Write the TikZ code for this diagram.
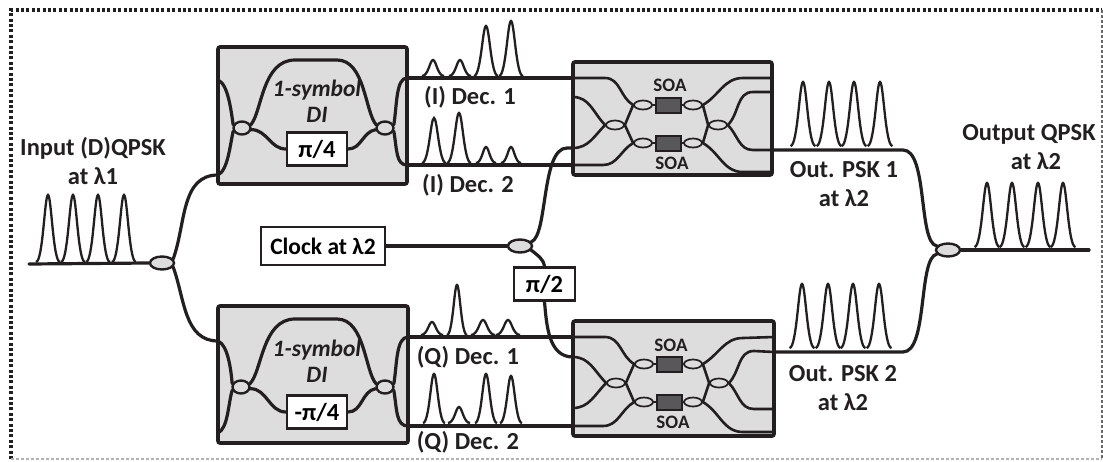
\documentclass[tikz,border=0pt]{standalone}
\usepackage{fontspec}
\setmainfont{Carlito}
\usepackage{tikz}
\usetikzlibrary{shapes.geometric, positioning}
\definecolor{FiberBlack}{HTML}{231F20}
\definecolor{BoxGrey}{HTML}{DCDDDC}
\definecolor{AmpGrey}{HTML}{58585A}
\tikzset{
  % Fibre line
  fiber/.style={draw=FiberBlack, line width=3.2pt, line cap=round},
  % Thin fibre inside the SOA blocks
  soafiber/.style={fiber, line width=2.6pt},
  % Thin pulse trace
  trace/.style={draw=FiberBlack, line width=2.3pt},
  % Grey device block
  block/.style={
    rectangle, draw=FiberBlack, line width=3.6pt,
    fill=BoxGrey, rounded corners=2pt, inner sep=0pt
  },
  % Couplers
  coupler/.style={
    ellipse, draw=FiberBlack, line width=2.4pt,
    fill=BoxGrey, inner sep=0pt,
    minimum width=24pt, minimum height=13pt
  },
  dicoupler/.style={coupler, minimum width=17pt, minimum height=13pt},
  soacoupler/.style={coupler, line width=1.7pt, minimum width=18pt, minimum height=9pt},
  % Phase shifter and clock box
  phase/.style={
    rectangle, draw=FiberBlack, line width=2.4pt,
    fill=white, inner sep=0pt, minimum height=33pt,
    font=\fontsize{24.5}{26}\selectfont\bfseries
  },
  % Amplifier
  amp/.style={
    rectangle, draw=FiberBlack, line width=2pt,
    fill=AmpGrey, inner sep=0pt,
    minimum width=25pt, minimum height=15pt
  },
  % Labels
  lbl/.style={
    text=FiberBlack, inner sep=0pt, align=center,
    font=\fontsize{24.5}{29}\selectfont\bfseries
  },
  dilbl/.style={lbl, font=\fontsize{23.5}{26}\selectfont\bfseries\itshape},
  soalbl/.style={lbl, font=\fontsize{19}{21}\selectfont\bfseries}
}

\begin{document}
\begin{tikzpicture}[x=1pt, y=-1pt]
\useasboundingbox (0,0) rectangle (1103,461);

% Frame
\draw[FiberBlack, line width=3.2pt, dash pattern=on 3pt off 2.4pt] (11,459) -- (11,10) -- (1102,10);
\draw[gray!80!black, line width=1.2pt, dash pattern=on 3pt off 2pt] (1102,10) -- (1102,459);
\draw[gray!60, line width=1.2pt, dash pattern=on 3pt off 2pt] (11,459) -- (1102,459);

% Device blocks
\node[block, minimum width=189pt, minimum height=137pt] (di_top) at (312.5,115.5) {};
\node[block, minimum width=190pt, minimum height=137pt] (di_bot) at (313,374.5) {};
\node[block, minimum width=199pt, minimum height=113pt] (soa_top) at (672.5,118.5) {};
\node[block, minimum width=201pt, minimum height=115pt] (soa_bot) at (673.5,378.5) {};

% Ports
\coordinate (dt_in1) at (218,80);
\coordinate (dt_in2) at (218,175);
\coordinate (dt_out1) at (407,78);
\coordinate (dt_out2) at (407,165);
\coordinate (db_in1) at (218,341);
\coordinate (db_in2) at (218,433);
\coordinate (db_out1) at (408,337);
\coordinate (db_out2) at (408,426);
\coordinate (st_in1) at (573,78);
\coordinate (st_in2) at (573,97);
\coordinate (st_in3) at (573,148);
\coordinate (st_in4) at (573,165);
\coordinate (st_out1) at (772,78);
\coordinate (st_out2) at (772,92);
\coordinate (st_out3) at (772,150);
\coordinate (st_out4) at (772,172);
\coordinate (sb_in1) at (573,337);
\coordinate (sb_in2) at (573,357);
\coordinate (sb_in3) at (573,408);
\coordinate (sb_in4) at (573,426);
\coordinate (sb_out1) at (774,337);
\coordinate (sb_out2) at (774,352);
\coordinate (sb_out3) at (774,409);
\coordinate (sb_out4) at (774,432);
\coordinate (in_start) at (29,264);
\coordinate (out_end) at (1089,250);

% Couplers
\node[coupler] (split_in) at (162,263) {};
\node[coupler] (split_clk) at (520,246) {};
\node[coupler] (comb_out) at (948,250) {};
\node[dicoupler] (dt_l) at (242,128) {};
\node[dicoupler] (dt_r) at (385,128) {};
\node[dicoupler] (db_l) at (241,387) {};
\node[dicoupler] (db_r) at (385,387) {};

\node[soacoupler] (st_a) at (643,105) {};
\node[soacoupler] (st_b) at (693,105) {};
\node[soacoupler] (st_c) at (643,143) {};
\node[soacoupler] (st_d) at (693,143) {};
\node[soacoupler] (st_l) at (615,125) {};
\node[soacoupler] (st_r) at (718,125) {};
\node[soacoupler] (sb_a) at (644,364) {};
\node[soacoupler] (sb_b) at (693,364) {};
\node[soacoupler] (sb_c) at (644,402) {};
\node[soacoupler] (sb_d) at (693,402) {};
\node[soacoupler] (sb_l) at (616,383) {};
\node[soacoupler] (sb_r) at (719,383) {};

% Phase shifters and clock
\node[phase, minimum width=60pt] (ph_top) at (317,149) {π/4};
\node[phase, minimum width=60pt] (ph_bot) at (317,412) {-π/4};
\node[phase, minimum width=61pt] (ph_clk) at (544.5,284) {π/2};
\node[phase, minimum width=124pt, minimum height=38pt, font=\fontsize{23.5}{26}\selectfont\bfseries] (clock) at (323,246) {Clock at λ2};

% Amplifiers
\node[amp] (amp_t1) at (668,105) {};
\node[amp] (amp_t2) at (668,143) {};
\node[amp] (amp_b1) at (669,364) {};
\node[amp] (amp_b2) at (669,402) {};

% Labels
\node[lbl] (in_lbl) at (93,161) {Input (D)QPSK\\at λ1};
\node[lbl] (out_lbl) at (1029,147) {Output QPSK\\\hspace*{14pt}at λ2};
\node[lbl] (psk1_lbl) at (844,184) {Out. PSK 1\\at λ2};
\node[lbl] (psk2_lbl) at (843,388) {Out. PSK 2\\at λ2};
\node[lbl] (i1_lbl) at (470,97) {(I) Dec. 1};
\node[lbl] (i2_lbl) at (468,185) {(I) Dec. 2};
\node[lbl] (q1_lbl) at (468,357) {(Q) Dec. 1};
\node[lbl] (q2_lbl) at (468,442) {(Q) Dec. 2};
\node[dilbl] (di1_lbl) at (317,90) {1-symbol};
\node[dilbl, below=7pt of di1_lbl] (di1b_lbl) {DI};
\node[dilbl] (di2_lbl) at (317,350) {1-symbol};
\node[dilbl, below=7pt of di2_lbl] (di2b_lbl) {DI};
\node[soalbl] (soa1_lbl) at (670,85) {SOA};
\node[soalbl] (soa2_lbl) at (672,163) {SOA};
\node[soalbl] (soa3_lbl) at (671,345) {SOA};
\node[soalbl] (soa4_lbl) at (673,422) {SOA};

% Input branches
\draw[fiber] (in_start) -- (split_in.west);
\draw[fiber] (split_in.20) to[out=70,in=180] (dt_in2);
\draw[fiber] (split_in.-20) to[out=-70,in=180] (db_in1);

% Upper DI
\draw[fiber] (dt_in1) .. controls (228,84) and (231,110) .. (dt_l.160);
\draw[fiber] (dt_in2) .. controls (228,170) and (230,145) .. (dt_l.200);
\draw[fiber] (dt_l.20) .. controls (262,112) and (262,60) .. (295,60) -- (337,60) .. controls (365,60) and (365,112) .. (dt_r.160);
\draw[fiber] (dt_l.-10) to[out=0,in=180] (ph_top.west);
\draw[fiber] (ph_top.east) to[out=0,in=190] (dt_r.190);
\draw[fiber] (dt_r.20) .. controls (397,105) and (396,78) .. (dt_out1);
\draw[fiber] (dt_r.-20) .. controls (397,150) and (396,165) .. (dt_out2);

% Lower DI
\draw[fiber] (db_in1) .. controls (228,345) and (231,370) .. (db_l.160);
\draw[fiber] (db_in2) .. controls (228,428) and (228,405) .. (db_l.200);
\draw[fiber] (db_l.20) .. controls (262,372) and (262,319) .. (295,319) -- (337,319) .. controls (365,319) and (365,372) .. (db_r.160);
\draw[fiber] (db_l.-10) to[out=0,in=180] (ph_bot.west);
\draw[fiber] (ph_bot.east) to[out=0,in=190] (db_r.190);
\draw[fiber] (db_r.20) .. controls (397,365) and (396,337) .. (db_out1);
\draw[fiber] (db_r.-20) .. controls (397,410) and (396,426) .. (db_out2);

% Decision lines
\draw[fiber] (dt_out1) -- (st_in1);
\draw[fiber] (dt_out2) -- (st_in4);
\draw[fiber] (db_out1) -- (sb_in1);
\draw[fiber] (db_out2) -- (sb_in4);

% Clock
\draw[fiber] (clock.east) -- (split_clk.west);
\draw[fiber] (split_clk.20) .. controls (548,236) and (541,148) .. (567,148) -- (st_in3);
\draw[fiber] (split_clk.-20) to[out=-40,in=100] (ph_clk.north);
\draw[fiber] (ph_clk.south) to[out=-85,in=180] (sb_in2);

% Upper SOA stage
\draw[soafiber] (st_in1) -- ++(32,0) to[out=0,in=150] (st_a.west);
\draw[soafiber] (st_in2) to[out=0,in=135] (st_l.west);
\draw[soafiber] (st_in3) to[out=0,in=-135] (st_l.west);
\draw[soafiber] (st_in4) -- ++(30,0) to[out=0,in=-150] (st_c.west);
\draw[soafiber] (st_l.east) -- (st_a.west);
\draw[soafiber] (st_l.east) -- (st_c.west);
\draw[soafiber] (st_a.east) -- (amp_t1) -- (st_b.west);
\draw[soafiber] (st_c.east) -- (amp_t2) -- (st_d.west);
\draw[soafiber] (st_b.east) -- (st_r.west);
\draw[soafiber] (st_d.east) -- (st_r.west);
\draw[soafiber] (st_b.east) to[out=30,in=180] ++(40,-27) -- (st_out1);
\draw[soafiber] (st_r.east) to[out=45,in=180] ++(25,-33) -- (st_out2);
\draw[soafiber] (st_r.east) to[out=-45,in=180] ++(25,25) -- (st_out3);
\draw[soafiber] (st_d.east) to[out=-30,in=180] ++(40,29) -- (st_out4);

% Lower SOA stage
\draw[soafiber] (sb_in1) -- ++(32,0) to[out=0,in=150] (sb_a.west);
\draw[soafiber] (sb_in2) to[out=0,in=135] (sb_l.west);
\draw[soafiber] (sb_in3) to[out=0,in=-135] (sb_l.west);
\draw[soafiber] (sb_in4) -- ++(30,0) to[out=0,in=-150] (sb_c.west);
\draw[soafiber] (sb_l.east) -- (sb_a.west);
\draw[soafiber] (sb_l.east) -- (sb_c.west);
\draw[soafiber] (sb_a.east) -- (amp_b1) -- (sb_b.west);
\draw[soafiber] (sb_c.east) -- (amp_b2) -- (sb_d.west);
\draw[soafiber] (sb_b.east) -- (sb_r.west);
\draw[soafiber] (sb_d.east) -- (sb_r.west);
\draw[soafiber] (sb_b.east) to[out=30,in=180] ++(40,-26) -- (sb_out1);
\draw[soafiber] (sb_r.east) to[out=45,in=180] ++(25,-32) -- (sb_out2);
\draw[soafiber] (sb_r.east) to[out=-45,in=180] ++(25,26) -- (sb_out3);
\draw[soafiber] (sb_d.east) to[out=-30,in=180] ++(40,30) -- (sb_out4);

% Output combiner
\draw[fiber] (st_out3) -- (903,150) .. controls (928,150) and (918,243) .. (comb_out.160);
\draw[fiber] (sb_out2) -- (903,352) .. controls (928,352) and (918,258) .. (comb_out.200);
\draw[fiber] (comb_out.east) -- (out_end);

% Pulses
\foreach \px/\pb/\pt/\pw in {
  48/262/195/12, 73/262/195/12, 98/262/195/12, 124/262/195/12,
  433/76/60/11, 460/76/60/11, 486/76/26/12, 511/76/21/12,
  434/163/118/12, 459/163/113/12, 486/163/147/10, 511/163/147/10,
  432/335/322/11, 457/335/285/10, 483/335/320/12, 508/335/320/12,
  434/423/374/11, 459/423/407/11, 486/423/374/11, 511/423/376/11,
  803/146/82/12.5, 829/146/82/12.5, 854/146/82/12.5, 880/146/82/12.5,
  802/348/284/12.5, 828/348/284/12.5, 853/348/284/12.5, 879/348/284/12.5,
  987/247/183/12.5, 1012/247/183/12.5, 1038/247/183/12.5, 1063/247/183/12.5
}{
  \draw[trace] (\px-\pw,\pb) .. controls (\px-0.42*\pw,\pb) and (\px-0.28*\pw,\pt) .. (\px,\pt)
    .. controls (\px+0.28*\pw,\pt) and (\px+0.42*\pw,\pb) .. (\px+\pw,\pb);
}
\end{tikzpicture}
\end{document}
